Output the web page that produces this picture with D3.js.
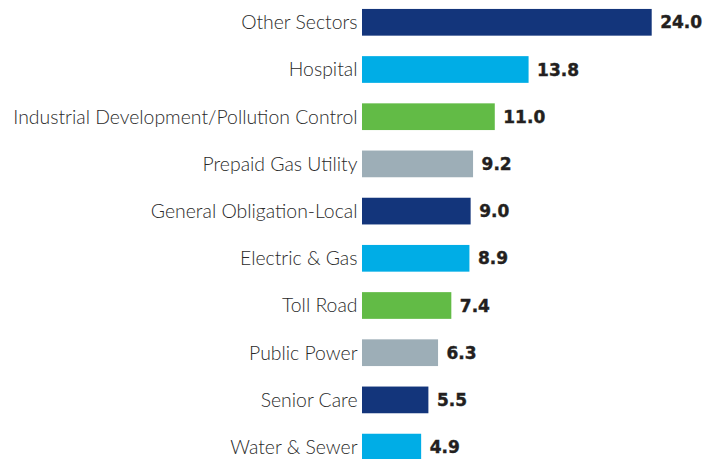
<!DOCTYPE html>
<html><head><meta charset="utf-8">
<script src="https://cdn.jsdelivr.net/npm/d3@7"></script>
<style>html,body{margin:0;padding:0;background:#fff;}</style>
</head><body>
<svg id="chart" width="712" height="459"></svg>
<script>
const categories = ["Other Sectors","Hospital","Industrial Development/Pollution Control","Prepaid Gas Utility","General Obligation-Local","Electric & Gas","Toll Road","Public Power","Senior Care","Water & Sewer"];
const values = [24.0,13.8,11.0,9.2,9.0,8.9,7.4,6.3,5.5,4.9];
const colors = ["#13357b","#00ade6","#62bb46","#9daeb7","#13357b","#00ade6","#62bb46","#9daeb7","#13357b","#00ade6"];

const svg = d3.select("#chart");
const x0 = 362;
const x = d3.scaleLinear().domain([0, 24]).range([x0, 651.7]);
const y = d3.scaleBand().domain(categories).range([-1.3, 470.7]).paddingInner(0.434).paddingOuter(0.217);

svg.selectAll("rect.bar").data(categories).join("rect")
  .attr("class","bar")
  .attr("x", x(0))
  .attr("y", d => y(d))
  .attr("width", (d,i) => x(values[i]) - x(0))
  .attr("height", y.bandwidth())
  .attr("fill", (d,i) => colors[i]);

svg.selectAll("text.cat").data(categories).join("text")
  .attr("class","cat")
  .attr("x", x0 - 4.5)
  .attr("y", d => y(d) + y.bandwidth()/2)
  .attr("dy","0.36em")
  .attr("text-anchor","end")
  .attr("font-family","Lato, sans-serif")
  .attr("font-weight", 300)
  .attr("font-size", 19.4)
  .attr("fill","#2a2a2a")
  .text(d => d);

svg.selectAll("text.val").data(categories).join("text")
  .attr("class","val")
  .attr("x", (d,i) => x(values[i]) + 8.5)
  .attr("y", d => y(d) + y.bandwidth()/2)
  .attr("dy","0.36em")
  .attr("font-family","'DejaVu Sans', sans-serif")
  .attr("font-weight","bold")
  .attr("font-size", 17)
  .attr("fill","#231f20")
  .attr("stroke","#231f20")
  .attr("stroke-width", 0.4)
  .text((d,i) => values[i].toFixed(1));
</script>
</body></html>
